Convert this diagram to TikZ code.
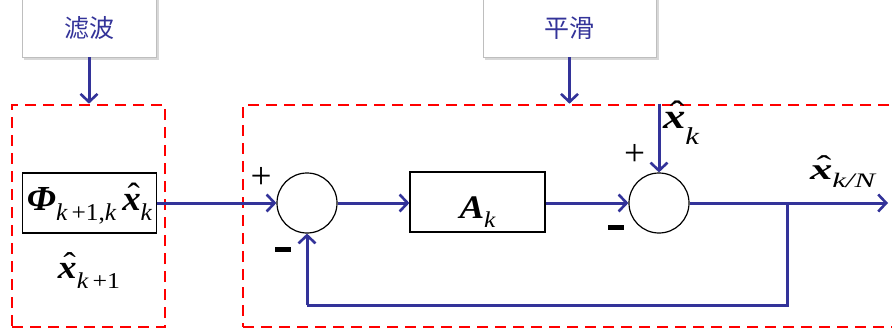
\documentclass[tikz,border=0pt]{standalone}
\usepackage{graphicx}
\usepackage{fontspec}
\newfontfamily\cjk{Noto Sans CJK SC}
\newfontfamily\tms{Liberation Serif}
\usetikzlibrary{arrows.meta}
\definecolor{flow}{RGB}{51,51,153}
\definecolor{redline}{RGB}{255,0,0}
\definecolor{shade}{RGB}{190,190,190}
\newcommand{\bxh}{\leavevmode\vbox{\offinterlineskip\halign{\hfil##\hfil\cr
  \hspace{4pt}{\mdseries\upshape ˆ}\cr\noalign{\kern-12pt}{\bfseries\itshape x}\cr}}}
\newcommand{\sbs}[1]{\raisebox{-9pt}{\fontsize{22}{22}\selectfont #1}}
\newcommand{\mlab}[3]{\resizebox*{#1}{#2}{\tms\fontsize{32}{34}\selectfont #3}}
\begin{document}
\begin{tikzpicture}[x=1pt,y=-1pt,
  flowline/.style={draw=flow, line width=3pt, -{Straight Barb[length=8pt,width=17pt,line width=2.6pt]}},
  plainflow/.style={draw=flow, line width=3pt},
  dashbox/.style={draw=redline, line width=2.6pt, dash pattern=on 11pt off 7pt, rectangle, inner sep=0pt},
  labelbox/.style={draw=shade, line width=0.8pt, fill=white, rectangle, inner sep=0pt, text=flow, font=\cjk\fontsize{25}{28}\selectfont},
  blk/.style={draw=black, line width=1.2pt, fill=white, rectangle, inner sep=0pt},
  sumc/.style={draw=black, line width=1.2pt, fill=white, circle, minimum size=60pt, inner sep=0pt},
  mathlbl/.style={inner sep=0pt},
  sign/.style={inner sep=0pt}
]
\useasboundingbox (0,0) rectangle (892,329);
\clip (0,0) rectangle (892,329);
\fill[white] (0,0) rectangle (892,329);

% top label boxes with soft shadow
\fill[shade!60] (24,-2) rectangle (159,60);
\node[labelbox, minimum width=134pt, minimum height=58pt] (lb) at (89,28) {滤波};
\fill[shade!60] (485,-2) rectangle (659,60);
\node[labelbox, minimum width=173pt, minimum height=58pt] (sb) at (569.5,28) {平滑};

% dashed frames
\node[dashbox, minimum width=153pt, minimum height=222pt] (fbox) at (88.5,216) {};
\node[dashbox, minimum width=662pt, minimum height=222pt] (rbox) at (574,216) {};

\draw[flowline] (lb.south) -- (lb.south |- fbox.north);
\draw[flowline] (sb.south) -- (sb.south |- rbox.north);

% blocks
\node[blk, minimum width=134pt, minimum height=60pt] (phi) at (89.5,203) {};
\node[mathlbl] (phit) at (89.5,203.5)
  {\mlab{125pt}{41pt}{{\bfseries\itshape Φ}\sbs{\itshape k\,\upshape+1,\itshape k}\,\bxh\sbs{\itshape k}}};
\node[mathlbl] (xk1) at (89,270.5) {\mlab{62pt}{35pt}{\bxh\sbs{\itshape k\,\upshape+1}}};
\node[sumc] (s1) at (307,203) {};
\node[blk, minimum width=135pt, minimum height=60pt] (A) at (477.5,202) {};
\node[mathlbl] (At) at (477.5,212) {\mlab{36pt}{31pt}{{\bfseries\itshape A}\sbs{\itshape k}}};
\node[sumc] (s2) at (659,203) {};

\coordinate (xin) at (s2.north |- rbox.north);
\coordinate (br) at (787,203);
\coordinate (out) at (888,203);
\coordinate (fb) at (787,305);

\draw[flowline] (phi.east) -- (s1.west);
\draw[flowline] (s1.east) -- (A.west |- s1.east);
\draw[flowline] (A.east |- s2.west) -- (s2.west);
\draw[flowline] (xin) -- (s2.north);
\draw[flowline] (s2.east) -- (out);
\draw[plainflow] (br) -- (fb) -- (s1.south |- fb);
\draw[flowline] (s1.south |- fb) -- (s1.south);

% labels
\node[mathlbl] (lxk) at (681,122.5) {\mlab{36pt}{43pt}{\bxh\raisebox{-14pt}{\fontsize{22}{22}\selectfont\itshape k}}};
\node[mathlbl] (lxo) at (842.5,172) {\mlab{65pt}{32pt}{\bxh\sbs{\itshape k/N}}};
\node[sign] (p1) at (261,178) {\resizebox{21pt}{!}{\tms +}};
\node[sign] (m1) at (283,249) {\rule{16pt}{5pt}};
\node[sign] (p2) at (634.5,155) {\resizebox{21pt}{!}{\tms +}};
\node[sign] (m2) at (616,227.5) {\rule{16pt}{5pt}};
\end{tikzpicture}
\end{document}
